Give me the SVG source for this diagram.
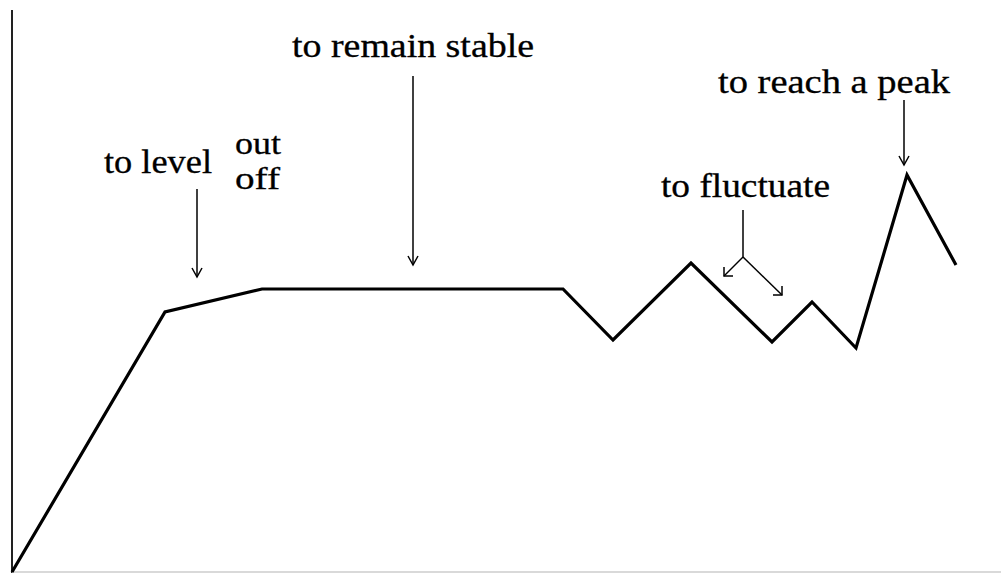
<svg xmlns="http://www.w3.org/2000/svg" width="1001" height="573" viewBox="0 0 1001 573">
<style>
.lbl{font-family:'Liberation Serif','DejaVu Serif Condensed','DejaVu Serif',serif;font-size:33px;fill:#000;stroke:#000;stroke-width:0.3}
.sm{font-size:32px}
.arr{stroke:#000;stroke-width:1.5;fill:none}
.head{stroke:#000;stroke-width:1.5;fill:none}
</style>
<rect x="0" y="0" width="1001" height="573" fill="#fff"/>
<g id="axes">
<line x1="12" y1="10" x2="12" y2="573" stroke="#222" stroke-width="2"/>
<line x1="12" y1="572" x2="1001" y2="572" stroke="#ccc" stroke-width="1.5"/>
</g>
<g id="graph">
<polyline points="12,572 165,312 262,289 563,289 613,340 691,263 772,342 812,302 856,348 907,175 956,265" fill="none" stroke="#000" stroke-width="3.2" stroke-linejoin="miter"/>
</g>
<g id="connectors">
<line class="arr" x1="197" y1="189" x2="197" y2="277"/>
<polyline class="head" points="192,268 197,277 202,268"/>
<line class="arr" x1="413" y1="76" x2="413" y2="265"/>
<polyline class="head" points="408,256 413,265 418,256"/>
<line class="arr" x1="904" y1="100" x2="904" y2="165"/>
<polyline class="head" points="899,156 904,165 909,156"/>
<line class="arr" x1="743" y1="210" x2="743" y2="257"/>
<line class="arr" x1="743" y1="257" x2="724" y2="276"/>
<polyline class="head" points="724,267 724,276 733,276"/>
<line class="arr" x1="743" y1="257" x2="782" y2="295"/>
<polyline class="head" points="773,295 782,295 782,286"/>
</g>
<g id="labels">
<text id="t-level" class="lbl" x="104" y="173" textLength="108" lengthAdjust="spacingAndGlyphs">to level</text>
<text id="t-out" class="lbl sm" x="235" y="154" textLength="46" lengthAdjust="spacingAndGlyphs">out</text>
<text id="t-off" class="lbl sm" x="235" y="189" textLength="45" lengthAdjust="spacingAndGlyphs">off</text>
<text id="t-stable" class="lbl" x="292" y="57" textLength="242" lengthAdjust="spacingAndGlyphs">to remain stable</text>
<text id="t-fluct" class="lbl" x="661" y="197" textLength="169" lengthAdjust="spacingAndGlyphs">to fluctuate</text>
<text id="t-peak" class="lbl" x="718" y="93" textLength="232" lengthAdjust="spacingAndGlyphs">to reach a peak</text>
</g>
</svg>
